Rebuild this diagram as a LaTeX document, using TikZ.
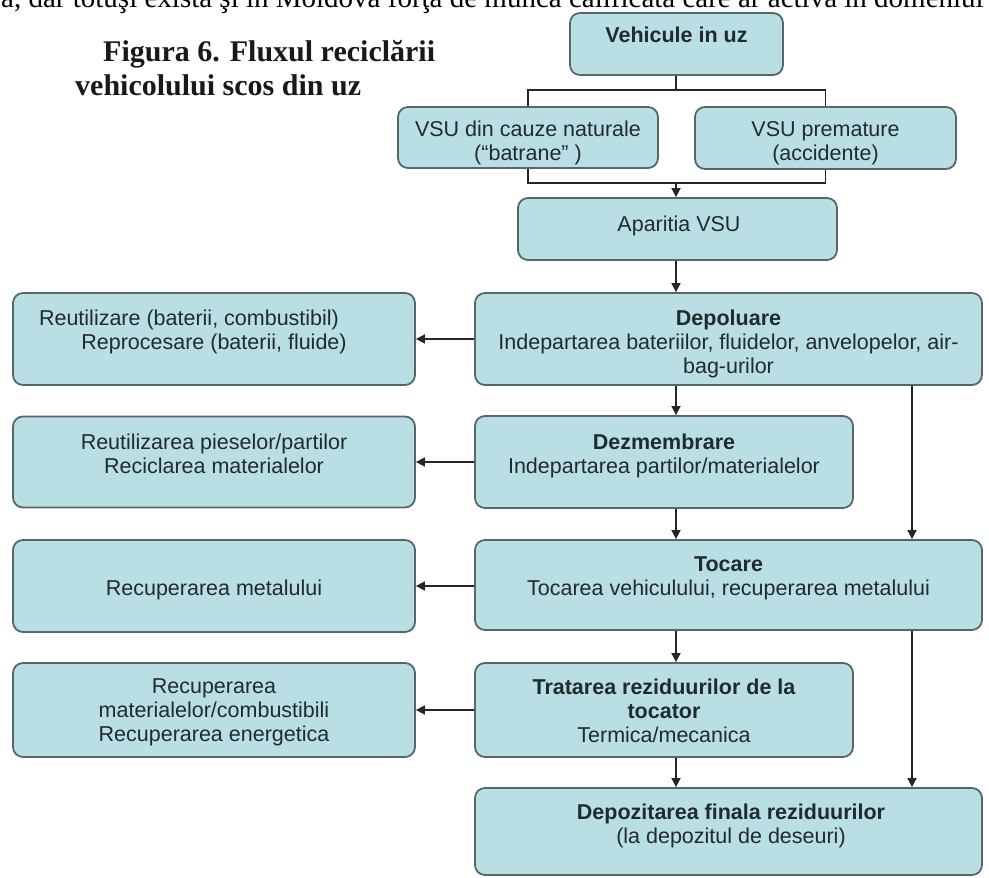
\documentclass[tikz,border=0pt]{standalone}
\usepackage{fontspec}
\setmainfont{Liberation Serif}
\setsansfont{Liberation Sans}
\usetikzlibrary{arrows.meta}
\definecolor{boxfill}{HTML}{B9DFE4}
\definecolor{boxline}{HTML}{56676A}
\definecolor{txt}{HTML}{1F2B2D}
\begin{document}
\begin{tikzpicture}[x=1pt,y=-1pt,
  box/.style={draw=boxline, line width=1.8pt, fill=boxfill, rounded corners=10pt, inner sep=0pt},
  lbl/.style={font=\sffamily\fontsize{21.5}{24}\selectfont, text=txt, align=center, inner sep=0pt, anchor=north},
  conn/.style={line width=1.6pt, draw=black!85},
  arr/.style={conn, -{Triangle[length=9pt,width=9pt]}},
  ttl/.style={font=\bfseries\fontsize{30}{30}\selectfont, text=black!90, inner sep=0pt, anchor=base west}]

\useasboundingbox (0,0) rectangle (989,878);

% clipped running text and title
\node[font=\fontsize{29}{29}\selectfont, inner sep=0pt, anchor=base west] (toptext) at (1,8)
  {a, dar totuşi există şi în Moldova forţa de muncă calificată care ar activa în domeniul};
\node[ttl] (title1) at (103,61) {Figura 6. Fluxul reciclării};
\node[ttl] (title2) at (75,95) {vehicolului scos din uz};

% boxes
\node[box, minimum width=213pt, minimum height=62pt] (veh) at (676.5,44) {};
\node[box, minimum width=260pt, minimum height=61pt] (nat) at (528,137.5) {};
\node[box, minimum width=261pt, minimum height=62pt] (pre) at (825.5,138) {};
\node[box, minimum width=319pt, minimum height=62pt] (apa) at (677.5,229) {};
\node[box, minimum width=507pt, minimum height=92pt] (dep) at (728.5,339) {};
\node[box, minimum width=378pt, minimum height=92pt] (dez) at (664,462) {};
\node[box, minimum width=507pt, minimum height=90pt] (toc) at (728.5,585) {};
\node[box, minimum width=378pt, minimum height=94pt] (tra) at (664,710) {};
\node[box, minimum width=507pt, minimum height=87pt] (fin) at (728.5,831.5) {};
\node[box, minimum width=402pt, minimum height=92pt] (ra) at (214,339) {};
\node[box, minimum width=402pt, minimum height=91pt] (rb) at (214,462) {};
\node[box, minimum width=402pt, minimum height=92pt] (rc) at (214,586) {};
\node[box, minimum width=402pt, minimum height=94pt] (rd) at (214,710) {};

% texts
\node[lbl] (vehT) at (676.5,27) {\bfseries Vehicule in uz};
\node[lbl] (natT) at (528,121) {VSU din cauze naturale\\(“batrane” )};
\node[lbl] (preT) at (825.5,121) {VSU premature\\(accidente)};
\node[lbl] (apaT) at (679,216) {Aparitia VSU};
\node[lbl] (depT) at (728.5,310) {{\bfseries Depoluare}\\Indepartarea bateriilor, fluidelor, anvelopelor, air-\\bag-urilor};
\node[lbl] (dezT) at (664,434) {{\bfseries Dezmembrare}\\Indepartarea partilor/materialelor};
\node[lbl] (tocT) at (728.5,556.5) {{\bfseries Tocare}\\Tocarea vehiculului, recuperarea metalului};
\node[lbl] (traT) at (664,679) {{\bfseries Tratarea reziduurilor de la}\\{\bfseries tocator}\\Termica/mecanica};
\node[lbl] (finT) at (731,804) {{\bfseries Depozitarea finala reziduurilor}\\(la depozitul de deseuri)};
\node[lbl] (raT) at (214,310) {Reutilizare (baterii, combustibil)\hspace*{50pt}\\Reprocesare (baterii, fluide)};
\node[lbl] (rbT) at (214,434) {Reutilizarea pieselor/partilor\\Reciclarea materialelor};
\node[lbl] (rcT) at (214,580) {Recuperarea metalului};
\node[lbl] (rdT) at (214,679) {Recuperarea\\materialelor/combustibili\\Recuperarea energetica};

% connectors
\coordinate (split) at (676,90);
\coordinate (merge) at (676,183);
\coordinate (col) at (676,0);
\coordinate (rcol) at (912,0);
\draw[conn] (veh.south -| split) -- (split);
\draw[conn] (nat.north) |- (split) -| (pre.north);
\draw[conn] (nat.south) |- (merge) -| (pre.south);
\draw[arr] (merge) -- (merge |- apa.north);
\draw[arr] (col |- apa.south) -- (col |- dep.north);
\draw[arr] (col |- dep.south) -- (col |- dez.north);
\draw[arr] (col |- dez.south) -- (col |- toc.north);
\draw[arr] (col |- toc.south) -- (col |- tra.north);
\draw[arr] (col |- tra.south) -- (col |- fin.north);
\draw[arr] (rcol |- dep.south) -- (rcol |- toc.north);
\draw[arr] (rcol |- toc.south) -- (rcol |- fin.north);
\draw[arr] (dep.west) -- (dep.west -| ra.east);
\draw[arr] (dez.west) -- (dez.west -| rb.east);
\draw[arr] (toc.west |- rc.east) -- (rc.east);
\draw[arr] (tra.west) -- (tra.west -| rd.east);
\end{tikzpicture}
\end{document}
